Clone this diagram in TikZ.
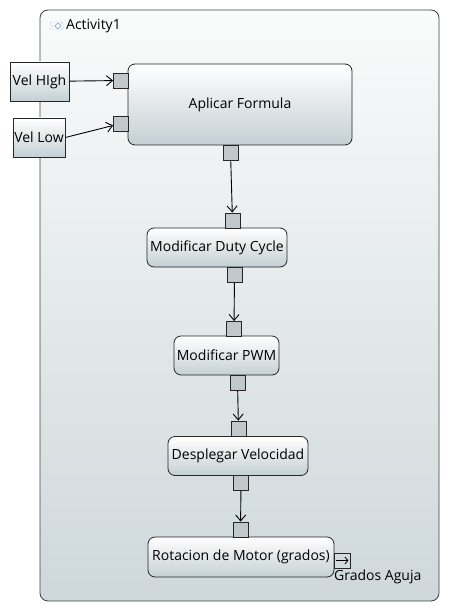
\documentclass[tikz,border=0pt]{standalone}
\usepackage{fontspec}
\setmainfont{Open Sans}
\usetikzlibrary{arrows.meta}
\definecolor{boxbot}{RGB}{196,208,212}
\definecolor{pinfill}{RGB}{192,200,204}
\definecolor{frametop}{RGB}{250,251,251}
\definecolor{framebot}{RGB}{206,216,219}
\definecolor{iconblue}{RGB}{70,110,170}
\tikzset{basic/.style={draw=black!85,line width=0.8pt,top color=white,bottom color=boxbot,
                       inner sep=0pt,font=\fontsize{14}{16}\selectfont}}
\tikzset{action/.style={basic,rounded corners=7pt}}
\tikzset{objnode/.style={basic,rectangle}}
\tikzset{portbox/.style={draw=black!85,line width=0.8pt,fill=pinfill,minimum width=15pt,
                         minimum height=15pt,inner sep=0pt}}
\tikzset{flow/.style={-{Straight Barb[length=6pt,width=10pt,line width=0.9pt]},line width=0.9pt}}

\begin{document}
\begin{tikzpicture}[x=1pt,y=-1pt]
    \useasboundingbox (0,0) rectangle (450,612);

    % activity frame
    \draw[draw=black!75,line width=0.8pt,rounded corners=8pt,top color=frametop,bottom color=framebot]
        (40,10) rectangle (439,601);
    \draw[iconblue,densely dotted,rounded corners=2pt] (50,22) rectangle (63,30);
    \draw[iconblue] (58,26) circle (2.5pt) (51,26) -- (54,26);
    \node[anchor=west,inner sep=0pt,font=\fontsize{14}{16}\selectfont] (title) at (66,26) {Activity1};

    % inputs
    \node[objnode,minimum width=59pt,minimum height=39pt] (velhigh) at (39.5,81.5) {Vel HIgh};
    \node[objnode,minimum width=52pt,minimum height=39pt] (vellow) at (39,137.5) {Vel Low};

    % actions
    \node[action,minimum width=224pt,minimum height=81pt] (formula) at (240,104.5) {Aplicar Formula};
    \node[action,minimum width=140pt,minimum height=39pt] (duty) at (217,247.5) {Modificar Duty Cycle};
    \node[action,minimum width=105pt,minimum height=39pt] (pwm) at (226.5,355.5) {Modificar PWM};
    \node[action,minimum width=140pt,minimum height=39pt] (speed) at (238,456) {Desplegar Velocidad};
    \node[action,minimum width=186pt,minimum height=40pt] (motor) at (241,557) {Rotacion de Motor (grados)};

    % pins
    \node[portbox] (pinh) at (121,80.5) {};
    \node[portbox] (pinl) at (121,123.5) {};
    \node[portbox] (pina) at (230.5,152.5) {};
    \node[portbox] (pind1) at (232.5,220.5) {};
    \node[portbox] (pind2) at (234.5,275) {};
    \node[portbox] (pinp1) at (234,329) {};
    \node[portbox] (pinp2) at (237.5,383) {};
    \node[portbox] (pinv1) at (238.5,428.5) {};
    \node[portbox] (pinv2) at (241,483) {};
    \node[portbox] (pinr1) at (240.5,529.5) {};
    \node[portbox,fill=none,minimum width=16pt] (pinr2) at (342,560.5) {};
    \draw[-{Straight Barb[length=3pt,width=7pt,line width=0.8pt]},line width=0.8pt]
        ([xshift=2pt]pinr2.west) -- ([xshift=-2pt]pinr2.east);
    \node[anchor=north west,inner sep=0pt,font=\fontsize{14}{16}\selectfont] (aguja) at (334,570) {Grados Aguja};

    % flows
    \draw[flow] (velhigh) -- (pinh);
    \draw[flow] (vellow.east) -- (pinl);
    \draw[flow] (pina) -- (pind1);
    \draw[flow] (pind2) -- (pinp1);
    \draw[flow] (pinp2) -- (pinv1);
    \draw[flow] (pinv2) -- (pinr1);
\end{tikzpicture}
\end{document}
